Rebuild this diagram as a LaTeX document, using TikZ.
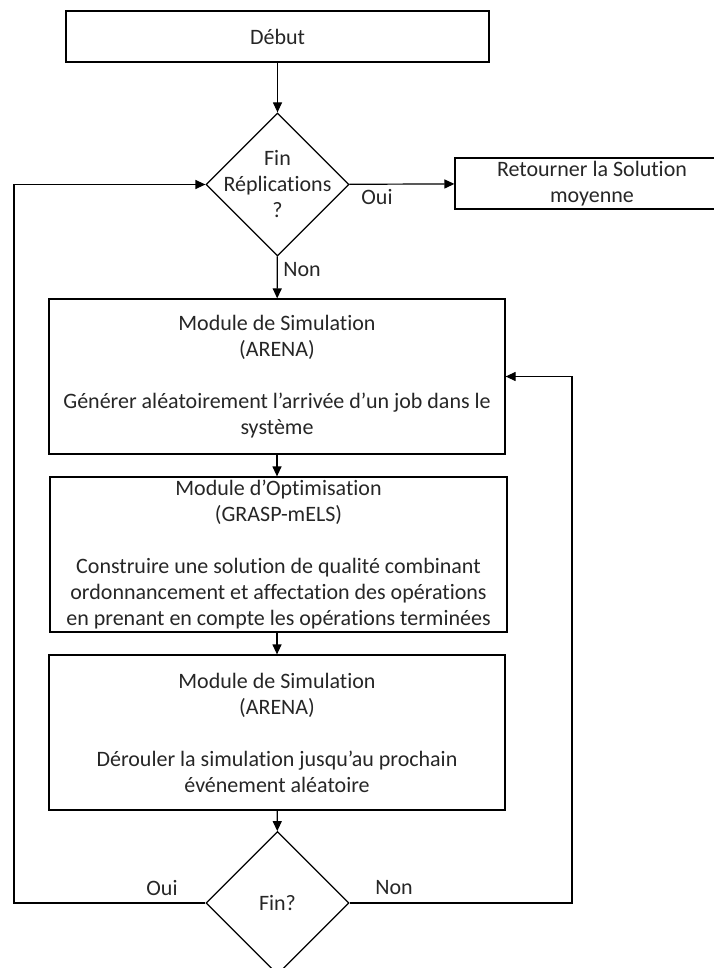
\documentclass[tikz,border=0pt]{standalone}
\usepackage{fontspec}
\setmainfont{Carlito}[Ligatures=NoCommon]
\usepackage{tikz}
\usetikzlibrary{shapes,arrows,arrows.meta,positioning}

\begin{document}
\begin{tikzpicture}[x=0.5pt, y=-0.5pt, font=\fontsize{11pt}{13pt}\selectfont]
\tikzstyle{block} = [rectangle, draw, line width=0.6pt, text=black!85, align=center, inner sep=0pt]
\tikzstyle{decision} = [diamond, draw, line width=0.6pt, aspect=1, inner sep=0pt, minimum width=71.5pt, minimum height=71.5pt]
\tikzstyle{txt} = [text=black!85, align=center, inner sep=0pt]
\tikzstyle{arrow} = [line width=0.6pt, -{Triangle[length=5pt,width=4.5pt]}]

\useasboundingbox (0,0) rectangle (713,968);

\node[block, minimum width=211.5pt, minimum height=25.5pt] (debut) at (277.5,36.5) {Début};
\node[decision, label={[txt]center:Fin\\Réplications\\?}] (rep) at (277.5,184.5) {};
\node[block, minimum width=137pt, minimum height=25.5pt] (ret) at (592,183.5) {Retourner la Solution\\moyenne};
\node[block, minimum width=228pt, minimum height=77.5pt] (sim1) at (277,376.5) {Module de Simulation\\(ARENA)\\[13pt]Générer aléatoirement l’arrivée d’un job dans le\\système};
\node[block, minimum width=228.5pt, minimum height=77.5pt] (optim) at (278.5,554.5) {Module d’Optimisation\\(GRASP-mELS)\\[13pt]Construire une solution de qualité combinant\\ordonnancement et affectation des opérations\\en prenant en compte les opérations terminées};
\node[block, minimum width=228pt, minimum height=77.5pt] (sim2) at (277,732.5) {Module de Simulation\\(ARENA)\\[13pt]Dérouler la simulation jusqu’au prochain\\événement aléatoire};
\node[decision, label={[txt]center:Fin?}] (fin) at (277.5,903) {};

% corners of the two loops
\coordinate (loopL) at (14,0);
\coordinate (loopR) at (572,0);

\draw[arrow] (debut) -- (rep);
\draw[arrow] (rep) -- (ret);
\draw[arrow] (rep) -- (sim1);
\draw[arrow] (sim1) -- (sim1 |- optim.north);
\draw[arrow] (optim.south -| sim2) -- (sim2);
\draw[arrow] (sim2) -- (fin);
\draw[arrow] (fin.west) -| (loopL |- rep.west) -- (rep.west);
\draw[arrow] (fin.east) -| (loopR |- sim1.east) -- (sim1.east);

\node[txt, anchor=west] (oui1) at (361,197) {Oui};
\node[txt, anchor=west] (non1) at (283,270) {Non};
\node[txt, anchor=east] (oui2) at (178,888) {Oui};
\node[txt, anchor=west] (non2) at (375,888) {Non};
\end{tikzpicture}
\end{document}
